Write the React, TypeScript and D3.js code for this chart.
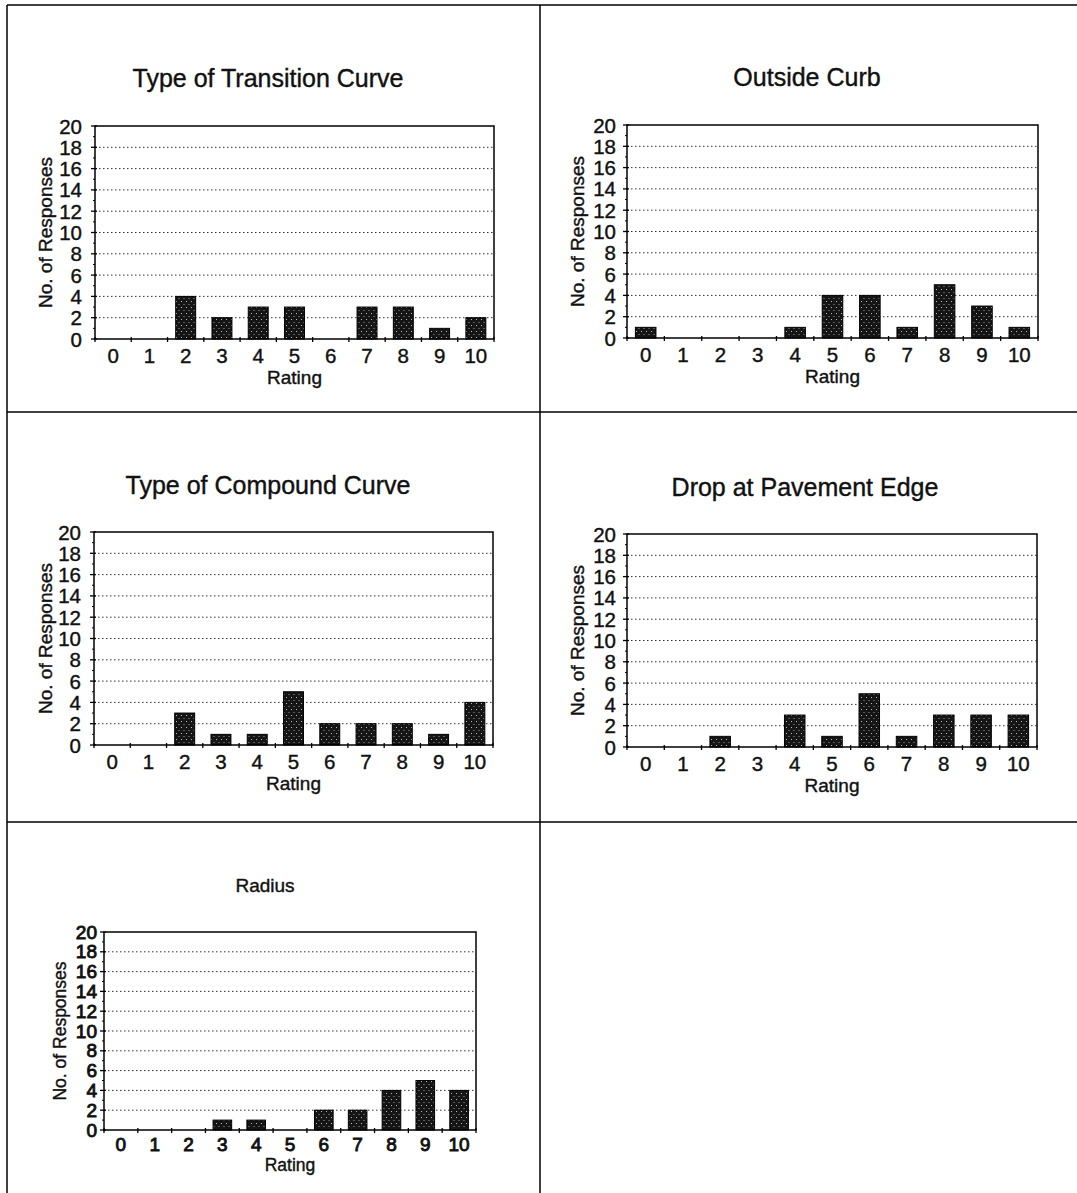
import React from "react";
import * as d3 from "d3";

// ---- data ----
const ratings = [0, 1, 2, 3, 4, 5, 6, 7, 8, 9, 10];
const yTicks = [0, 2, 4, 6, 8, 10, 12, 14, 16, 18, 20];
const transitionCurve = [0, 0, 4, 2, 3, 3, 0, 3, 3, 1, 2];
const outsideCurb = [1, 0, 0, 0, 1, 4, 4, 1, 5, 3, 1];
const compoundCurve = [0, 0, 3, 1, 1, 5, 2, 2, 2, 1, 4];
const pavementEdge = [0, 0, 1, 0, 3, 1, 5, 1, 3, 3, 3];
const radius = [0, 0, 0, 1, 1, 0, 2, 2, 4, 5, 4];
const titles = [
  "Type of Transition Curve",
  "Outside Curb",
  "Type of Compound Curve",
  "Drop at Pavement Edge",
  "Radius",
];
const yAxisTitle = "No. of Responses";
const xAxisTitle = "Rating";

const FONT = "'Liberation Sans', Arial, Helvetica, sans-serif";

type Panel = {
  title: string;
  values: number[];
  x0: number; x1: number; y0: number; y1: number;
  titleX: number; titleY: number; titleSize: number;
  yTitleX: number; tickSize: number; labelSize: number;
  yLabelGap: number; xLabelDy: number; xTitleDy: number; tickStroke: number;
};

const panels: Panel[] = [
  { title: titles[0], values: transitionCurve, x0: 95, x1: 494, y0: 126, y1: 339, titleX: 268, titleY: 78, titleSize: 25, yTitleX: 45, tickSize: 20.5, labelSize: 19, yLabelGap: 13, xLabelDy: 16, xTitleDy: 38, tickStroke: 0.4 },
  { title: titles[1], values: outsideCurb, x0: 627, x1: 1038, y0: 125, y1: 338, titleX: 807, titleY: 77, titleSize: 25, yTitleX: 577, tickSize: 20.5, labelSize: 19, yLabelGap: 11, xLabelDy: 16, xTitleDy: 38, tickStroke: 0.4 },
  { title: titles[2], values: compoundCurve, x0: 94, x1: 493, y0: 532, y1: 745, titleX: 268, titleY: 485, titleSize: 25, yTitleX: 45, tickSize: 20.5, labelSize: 19, yLabelGap: 13, xLabelDy: 16, xTitleDy: 38, tickStroke: 0.4 },
  { title: titles[3], values: pavementEdge, x0: 627, x1: 1037, y0: 534, y1: 747, titleX: 805, titleY: 487, titleSize: 25, yTitleX: 577, tickSize: 20.5, labelSize: 19, yLabelGap: 11, xLabelDy: 16, xTitleDy: 38, tickStroke: 0.4 },
  { title: titles[4], values: radius, x0: 104, x1: 476, y0: 932, y1: 1130, titleX: 265, titleY: 885, titleSize: 19, yTitleX: 60, tickSize: 19, labelSize: 17.5, yLabelGap: 7, xLabelDy: 14, xTitleDy: 35, tickStroke: 0.9 },
];

function Chart({ p }: { p: Panel }) {
  const x = d3
    .scaleBand<number>()
    .domain(ratings)
    .range([p.x0, p.x1])
    .paddingInner(0.45)
    .paddingOuter(0.225);
  const y = d3.scaleLinear().domain([0, 20]).range([p.y1, p.y0]);
  const step = x.step();
  const minor = d3.range(1, 20, 2);
  const yCenter = (p.y0 + p.y1) / 2;
  const txt = { fontFamily: FONT, fill: "#111", stroke: "#111", strokeWidth: 0.4 };
  return (
    <g>
      <text x={p.titleX} y={p.titleY} textAnchor="middle" dominantBaseline="central" fontSize={p.titleSize} {...txt}>
        {p.title}
      </text>
      {/* gridlines */}
      {yTicks.filter((t) => t > 0 && t < 20).map((t) => (
        <line key={"g" + t} x1={p.x0} x2={p.x1} y1={y(t)} y2={y(t)} stroke="#333" strokeWidth={1} strokeDasharray="1.5,2.5" />
      ))}
      {/* bars */}
      {p.values.map((v, i) =>
        v > 0 ? (
          <rect key={"b" + i} x={x(ratings[i])} y={y(v)} width={x.bandwidth()} height={y(0) - y(v)} fill="url(#stipple)" stroke="#000" strokeWidth={1} />
        ) : null
      )}
      {/* frame */}
      <rect x={p.x0} y={p.y0} width={p.x1 - p.x0} height={p.y1 - p.y0} fill="none" stroke="#000" strokeWidth={1.5} />
      {/* y ticks */}
      {yTicks.map((t) => (
        <line key={"yt" + t} x1={p.x0 - 4} x2={p.x0 + 2} y1={y(t)} y2={y(t)} stroke="#000" strokeWidth={1.3} />
      ))}
      {minor.map((t) => (
        <line key={"ym" + t} x1={p.x0 - 2} x2={p.x0} y1={y(t)} y2={y(t)} stroke="#000" strokeWidth={1} />
      ))}
      {/* x ticks at band boundaries */}
      {d3.range(0, ratings.length + 1).map((k) => (
        <line key={"xt" + k} x1={p.x0 + k * step} x2={p.x0 + k * step} y1={p.y1 - 2} y2={p.y1 + 3} stroke="#000" strokeWidth={1.3} />
      ))}
      {/* y tick labels */}
      {yTicks.map((t) => (
        <text key={"yl" + t} x={p.x0 - p.yLabelGap} y={y(t)} textAnchor="end" dominantBaseline="central" fontSize={p.tickSize} {...txt} strokeWidth={p.tickStroke}>
          {t}
        </text>
      ))}
      {/* x tick labels */}
      {ratings.map((r) => (
        <text key={"xl" + r} x={(x(r) as number) + x.bandwidth() / 2} y={p.y1 + p.xLabelDy} textAnchor="middle" dominantBaseline="central" fontSize={p.tickSize} {...txt} strokeWidth={p.tickStroke}>
          {r}
        </text>
      ))}
      <text x={(p.x0 + p.x1) / 2} y={p.y1 + p.xTitleDy} textAnchor="middle" dominantBaseline="central" fontSize={p.labelSize} {...txt}>
        {xAxisTitle}
      </text>
      <text transform={`translate(${p.yTitleX},${yCenter}) rotate(-90)`} textAnchor="middle" dominantBaseline="central" fontSize={p.labelSize} {...txt}>
        {yAxisTitle}
      </text>
    </g>
  );
}

export default function App() {
  return (
    <svg width={1077} height={1193} style={{ position: "absolute", left: 0, top: 0, background: "#fff" }}>
      <defs>
        <pattern id="stipple" width={5} height={6} patternUnits="userSpaceOnUse">
          <rect width={5} height={6} fill="#151515" />
          <rect x={1} y={1} width={1} height={1} fill="#bbb" />
          <rect x={3.5} y={4} width={1} height={1} fill="#999" />
        </pattern>
      </defs>
      <rect width={1077} height={1193} fill="#fff" />
      {/* panel borders */}
      <line x1={7} x2={1077} y1={5} y2={5} stroke="#000" strokeWidth={1.5} />
      <line x1={7} x2={7} y1={5} y2={1193} stroke="#000" strokeWidth={1.5} />
      <line x1={540} x2={540} y1={5} y2={1193} stroke="#000" strokeWidth={1.5} />
      <line x1={7} x2={1077} y1={412} y2={412} stroke="#000" strokeWidth={1.5} />
      <line x1={7} x2={1077} y1={822} y2={822} stroke="#000" strokeWidth={1.5} />
      {panels.map((p, i) => (
        <Chart key={i} p={p} />
      ))}
    </svg>
  );
}
